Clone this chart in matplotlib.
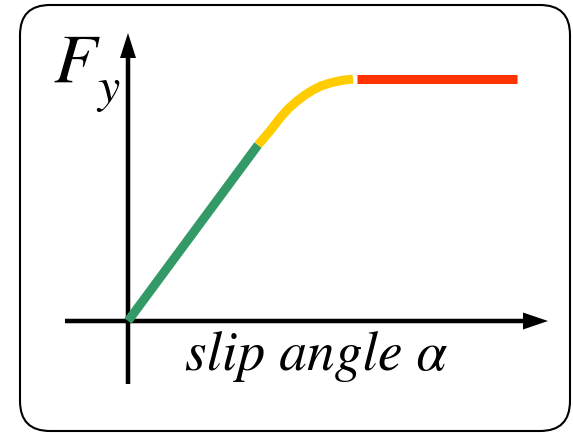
import matplotlib
matplotlib.use("Agg")
import matplotlib.pyplot as plt
from matplotlib.patches import FancyBboxPatch

# Lateral tyre force vs slip angle (schematic units: 1 unit = 10 px)
linear_alpha = [0.0, 13.0]
linear_fy = [0.0, 17.6]

transition_alpha = [13.0, 14.2, 15.2, 16.0, 16.9, 17.7, 18.5, 19.3, 20.2, 21.3, 22.5]
transition_fy = [17.6, 19.0, 20.3, 21.2, 22.0, 22.6, 23.1, 23.5, 23.8, 24.05, 24.2]

saturated_alpha = [22.9, 38.9]
saturated_fy = [24.2, 24.2]

GREEN = "#339966"
YELLOW = "#FFCC00"
RED = "#FF3300"

W, H = 573, 433
fig = plt.figure(figsize=(W / 100, H / 100), dpi=100)
ax = fig.add_axes([0, 0, 1, 1])
ax.set_xlim(-12.8, (W - 128) / 10)
ax.set_ylim(-(H - 321) / 10, 321 / 10)
ax.set_aspect("equal")
ax.axis("off")

# rounded frame
frame = FancyBboxPatch((-10.8, -11.0), 55.0, 42.6,
                       boxstyle="round,pad=0,rounding_size=3.0",
                       fc="white", ec="black", lw=1.5, zorder=0)
ax.add_patch(frame)

# axes arrows
ax.arrow(-6.3, 0, 48.3, 0, width=0.45, head_width=1.7, head_length=2.5,
         length_includes_head=True, color="black", lw=0, zorder=2)
ax.arrow(0, -6.3, 0, 35.1, width=0.45, head_width=1.6, head_length=2.5,
         length_includes_head=True, color="black", lw=0, zorder=2)

# force curve segments
lw = 6.5
ax.plot(linear_alpha, linear_fy, color=GREEN, lw=lw, solid_capstyle="butt", zorder=3)
ax.plot(transition_alpha, transition_fy, color=YELLOW, lw=lw,
        solid_capstyle="butt", solid_joinstyle="round", zorder=3)
ax.plot(saturated_alpha, saturated_fy, color=RED, lw=lw, solid_capstyle="butt", zorder=3)

# labels in a Times-style italic
SERIF = "STIXGeneral"
ax.text(-7.5, 23.9, "F", family=SERIF, style="italic", fontsize=51,
        ha="left", va="baseline")
ax.text(-3.1, 21.9, "y", family=SERIF, style="italic", fontsize=36,
        ha="left", va="baseline")
ax.text(5.7, -4.9, "slip angle α", family=SERIF, style="italic",
        fontsize=40, ha="left", va="baseline")

fig.savefig("out.png", dpi=100)
